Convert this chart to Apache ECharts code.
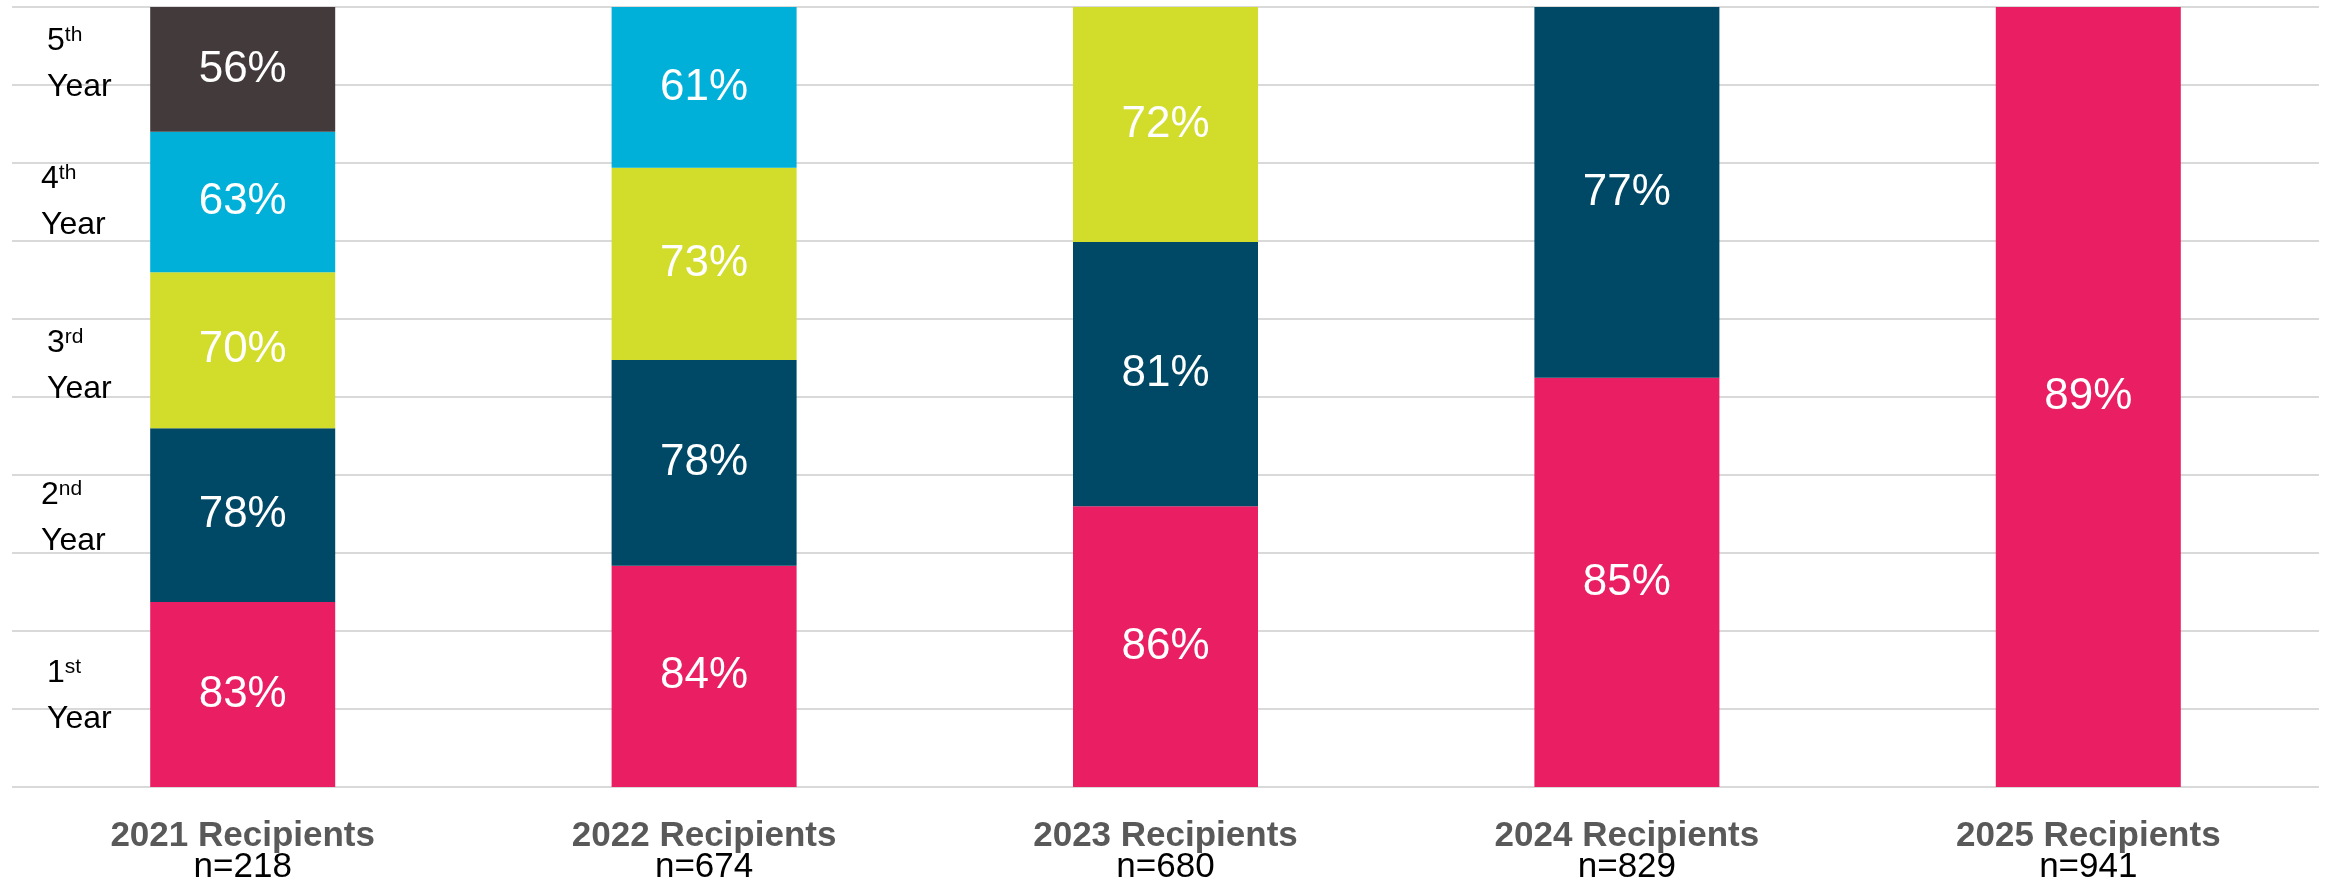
<!DOCTYPE html>
<html lang="en">

<head>
    <meta charset="UTF-8">
    <title>Retention by Recipient Cohort</title>
    <script src="https://cdn.jsdelivr.net/npm/echarts@6/dist/echarts.min.js"></script>
    <style>
        html, body { margin: 0; padding: 0; background: #fff; }
        #chart { width: 2326px; height: 886px; }
    </style>
</head>

<body>
    <div id="chart"></div>
    <script>
        // cohorts and their sizes
        const cohorts = ['2021 Recipients', '2022 Recipients', '2023 Recipients', '2024 Recipients', '2025 Recipients'];
        const cohortN = [218, 674, 680, 829, 941];

        // retention % per year of study, one value per cohort
        const year1 = [83, 84, 86, 85, 89];
        const year2 = [78, 78, 81, 77, null];
        const year3 = [70, 73, 72, null, null];
        const year4 = [63, 61, null, null, null];
        const year5 = [56, null, null, null, null];

        const yearNames = ['1st', '2nd', '3rd', '4th', '5th'];
        const colors = ['#E91E63', '#004966', '#D2DC2A', '#00B0D8', '#423A3B'];

        // where the row labels sit on the 0-100 axis (layout only)
        const rowLabelAt = [11.7, 34.5, 53.9, 75, 92.7];

        const rows = [year1, year2, year3, year4, year5];
        // each column is drawn as 100% stacked
        const totals = cohorts.map((c, i) => rows.reduce((s, r) => s + (r[i] || 0), 0));

        const font = '"Liberation Sans", Arial, sans-serif';

        let series = rows.map((r, k) => ({
            name: yearNames[k] + ' Year',
            type: 'bar',
            stack: 'all',
            barWidth: 185,
            itemStyle: { color: colors[k] },
            data: r.map((v, i) => v == null ? null : { value: v / totals[i] * 100, raw: v }),
            label: {
                show: true,
                position: 'inside',
                color: '#fff',
                fontSize: 44,
                fontFamily: font,
                formatter: p => p.data.raw + '%'
            }
        }));

        let myChart = echarts.init(document.getElementById('chart'));

        let option = {
            animation: false,
            grid: { left: 12, right: 7, top: 7, bottom: 99, containLabel: false },
            xAxis: {
                type: 'category',
                data: cohorts,
                axisLine: { show: false },
                axisTick: { show: false },
                axisLabel: {
                    margin: 34,
                    interval: 0,
                    formatter: (v, i) => '{b|' + v + '}\n{n|n=' + cohortN[i] + '}',
                    rich: {
                        b: { fontSize: 35, fontWeight: 'bold', color: '#595959', fontFamily: font, lineHeight: 31 },
                        n: { fontSize: 35, color: '#000', fontFamily: font, lineHeight: 31 }
                    }
                }
            },
            yAxis: [
                {
                    type: 'value',
                    min: 0,
                    max: 100,
                    interval: 10,
                    axisLabel: { show: false },
                    axisLine: { show: false },
                    axisTick: { show: false },
                    splitLine: { lineStyle: { color: '#D9D9D9', width: 2 } }
                },
                {
                    type: 'value',
                    min: 0,
                    max: 100,
                    position: 'left',
                    axisLine: { show: false },
                    axisTick: { show: false },
                    splitLine: { show: false },
                    axisLabel: {
                        inside: true,
                        margin: 29,
                        customValues: rowLabelAt,
                        formatter: v => {
                            let k = rowLabelAt.indexOf(v);
                            let s = yearNames[k];
                            let pad = (k % 2 === 0) ? 'a' : 'b';
                            return '{' + pad + 'num|' + s.charAt(0) + '}{sup|' + s.slice(1) + '}\n{' + pad + 'yr|Year}';
                        },
                        rich: {
                            anum: { fontSize: 32, color: '#000', fontFamily: font, lineHeight: 46, padding: [0, 0, 0, 6] },
                            bnum: { fontSize: 32, color: '#000', fontFamily: font, lineHeight: 46 },
                            sup: { fontSize: 21, color: '#000', fontFamily: font, lineHeight: 34, height: 34, verticalAlign: 'top' },
                            ayr: { fontSize: 32, color: '#000', fontFamily: font, lineHeight: 46, padding: [0, 0, 0, 6] },
                            byr: { fontSize: 32, color: '#000', fontFamily: font, lineHeight: 46 }
                        }
                    }
                }
            ],
            series: series
        };

        myChart.setOption(option);
    </script>
</body>

</html>
